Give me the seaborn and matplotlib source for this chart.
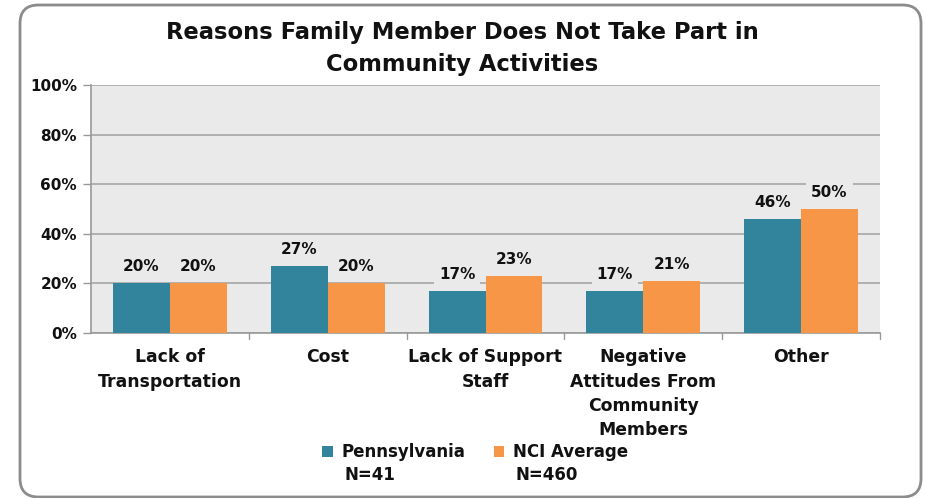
import matplotlib
matplotlib.use("Agg")
import matplotlib.pyplot as plt
import seaborn as sns
import pandas as pd
from matplotlib.patches import FancyBboxPatch

categories = ["Lack of\nTransportation", "Cost", "Lack of Support\nStaff",
              "Negative\nAttitudes From\nCommunity\nMembers", "Other"]
series_names = ["Pennsylvania", "NCI Average"]
series_n = ["N=41", "N=460"]
pennsylvania = [20, 27, 17, 17, 46]
nci_average = [20, 20, 23, 21, 50]
y_ticks = [0, 20, 40, 60, 80, 100]
y_tick_labels = ["0%", "20%", "40%", "60%", "80%", "100%"]
title = "Reasons Family Member Does Not Take Part in\nCommunity Activities"

colors = ["#31849B", "#F79646"]
bg = "#EAEAEA"
txt = "#111111"

df = pd.DataFrame({
    "category": categories * 2,
    "series": [series_names[0]] * len(categories) + [series_names[1]] * len(categories),
    "value": pennsylvania + nci_average,
})

sns.set_theme(style="white")
plt.rcParams["font.family"] = ["DejaVu Sans"]

fig = plt.figure(figsize=(9.25, 4.98), dpi=100)
ax = fig.add_axes([91 / 925, 1 - 333 / 498, (880 - 91) / 925, (333 - 85) / 498])

sns.barplot(data=df, x="category", y="value", hue="series", palette=colors,
            width=0.72, saturation=1, ax=ax, order=categories,
            hue_order=series_names, linewidth=0, zorder=3)

ax.set_facecolor(bg)
ax.set_ylim(0, 100)
ax.set_xlim(-0.5, len(categories) - 0.5)
ax.set_yticks(y_ticks)
ax.set_yticklabels(y_tick_labels, fontsize=11, fontweight="bold", color=txt)
ax.set_xticks(range(len(categories)))
ax.set_xticklabels(categories, fontsize=12.4, fontweight="bold", color=txt,
                   linespacing=1.45, va="top")
ax.tick_params(axis="x", length=0, pad=11)
ax.tick_params(axis="y", length=6, width=1, color="#999999", left=True, pad=4)
ax.set_xlabel("")
ax.set_ylabel("")
ax.grid(axis="y", color="#A6A6A6", linewidth=1.2, zorder=0)
ax.set_axisbelow(True)
for s in ["top", "right"]:
    ax.spines[s].set_visible(False)
for s in ["left", "bottom"]:
    ax.spines[s].set_color("#999999")
    ax.spines[s].set_linewidth(1.2)

# category boundary ticks on x axis
for b in range(1, len(categories) + 1):
    ax.plot([b - 0.5, b - 0.5], [0, -2.4], color="#999999", lw=1.0,
            clip_on=False, zorder=4)

for cont in ax.containers:
    ax.bar_label(cont, labels=[f"{int(round(v))}%" for v in cont.datavalues],
                 padding=6.5, fontsize=11, fontweight="bold", color=txt,
                 bbox=dict(facecolor=bg, edgecolor="none", pad=3.5))

leg = ax.legend(loc="center", bbox_to_anchor=(475 / 925, 1 - 452 / 498),
                bbox_transform=fig.transFigure, ncol=2,
                frameon=False, prop={"weight": "bold", "size": 12},
                handlelength=0.65, handleheight=0.65, handletextpad=0.5,
                columnspacing=1.7)
for t in leg.get_texts():
    t.set_color(txt)

fig.canvas.draw()
renderer = fig.canvas.get_renderer()
inv = fig.transFigure.inverted()
for t, n in zip(leg.get_texts(), series_n):
    bb = t.get_window_extent(renderer)
    x0, y0 = inv.transform((bb.x0 + 3, bb.y0))
    fig.text(x0, 1 - 475 / 498, n, ha="left", va="center", fontsize=12,
             fontweight="bold", color=txt)

fig.text(0.5, 1 - 48.5 / 498, title, ha="center", va="center",
         fontsize=16.3, fontweight="bold", linespacing=1.45, color=txt)

frame = FancyBboxPatch((20 / 925, 1 / 498), (921 - 20) / 925, (493 - 1) / 498,
                       boxstyle="round,pad=0,rounding_size=0.02",
                       transform=fig.transFigure, facecolor="none",
                       edgecolor="#8C8C8C", linewidth=2, mutation_aspect=925 / 498)
fig.patches.append(frame)

fig.savefig("out.png", dpi=100)
